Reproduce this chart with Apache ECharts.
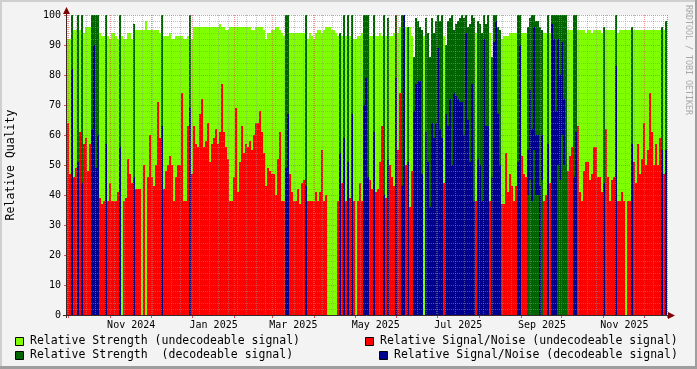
<!DOCTYPE html>
<html><head><meta charset="utf-8">
<script src="https://cdn.jsdelivr.net/npm/echarts@6/dist/echarts.min.js"></script>
<style>html,body{margin:0;padding:0;background:#f3f3f3}#c{width:697px;height:369px}</style>
</head><body><div id="c"></div>
<script>
// ---- data (one value per 2px time bin, 300 bins, Sep 30 2024 .. Dec 17 2025) ----
const startDate = '2024-09-30';
const dayCount = 444;
const decoded = [
0,0,1,0,0,1,0,1,0,0, 0,0,1,1,1,1,0,0,0,1, 0,0,0,0,0,0,1,0,0,0, 0,0,0,1,0,0,0,0,0,0,
0,0,0,0,0,0,0,1,0,0, 0,0,0,0,0,0,0,0,0,0, 0,1,0,0,0,0,0,0,0,0, 0,0,0,0,0,0,0,0,0,0,
0,0,0,0,0,0,0,0,0,0, 0,0,0,0,0,0,0,0,0,0, 0,0,0,0,0,0,0,0,0,1, 1,0,0,0,0,0,0,0,0,1,
0,0,0,0,0,0,0,0,0,0, 0,0,0,0,0,0,1,0,1,0, 1,0,1,0,0,0,0,0,1,1, 1,0,0,1,0,0,0,0,1,0,
1,0,0,0,1,0,0,1,1,0, 1,0,0,1,1,1,1,1,0,1, 1,1,1,1,1,1,1,1,0,1, 1,1,1,1,1,1,1,1,1,1,
1,1,1,1,0,1,1,1,1,1, 1,0,1,1,1,1,1,0,0,0, 0,0,0,0,0,1,1,0,0,0, 1,1,1,1,1,1,1,1,0,0,
1,0,1,1,1,1,1,1,1,1, 0,0,0,1,1,0,0,0,0,0, 0,0,0,0,0,0,0,0,1,0, 0,0,0,0,1,0,0,0,0,0,
0,0,1,0,0,0,0,0,0,0, 0,0,0,0,0,0,0,1,0,1];
const strength = [
92,92,100,95,95,100,95,100,94,96, 96,96,100,100,100,100,94,93,93,100, 93,92,94,94,93,92,100,93,92,92,
94,94,92,97,95,95,95,95,95,98, 95,95,95,95,95,95,94,100,93,93, 93,94,92,92,93,93,93,93,92,92,
93,100,92,96,96,96,96,96,96,96, 96,96,96,96,96,96,97,96,96,95, 95,96,96,96,96,96,96,96,96,96,
96,96,95,95,96,96,96,96,95,92, 94,94,95,95,96,96,95,94,93,100, 100,94,94,94,94,94,94,94,94,100,
92,94,93,92,94,95,95,94,95,96, 96,96,95,95,94,93,94,93,100,93, 100,93,100,92,92,93,93,94,100,100,
100,93,93,100,93,93,94,93,100,93, 99,93,93,94,100,94,96,100,100,96, 96,96,93,86,99,98,96,95,93,99,
94,86,99,94,98,100,98,100,93,90, 98,99,100,95,97,98,99,100,99,100, 96,97,100,99,94,98,97,94,100,97,
100,94,86,100,100,96,95,92,93,93, 93,94,94,94,94,100,100,94,94,94, 96,99,100,100,98,98,96,95,94,94,
100,94,100,100,100,100,100,100,100,100, 95,95,95,100,100,95,95,95,95,94, 95,95,94,95,95,95,95,94,96,95,
95,95,95,95,100,94,95,95,95,95, 95,95,96,95,95,95,95,95,95,95, 95,95,95,95,95,95,95,96,95,98];
const snr = [
64,47,82,46,49,51,61,44,57,59, 48,57,62,90,49,60,39,37,38,57, 38,44,38,38,38,41,56,0,38,39,
52,47,44,46,42,42,42,0,50,0, 46,60,46,43,50,71,59,63,42,48, 50,53,50,38,46,50,50,74,38,38,
63,69,47,63,57,56,67,72,56,58, 64,51,57,59,62,57,61,77,61,56, 52,38,38,46,69,41,51,63,54,57,
56,58,55,60,64,64,68,61,54,43, 49,48,47,47,40,52,61,38,38,49, 67,47,41,38,38,42,37,44,45,43,
38,38,38,38,41,38,41,55,38,40, 0,0,0,0,0,38,54,44,59,38, 51,39,67,38,0,38,44,38,70,79,
46,45,42,61,41,42,51,63,40,39, 52,50,46,43,79,55,74,43,100,50, 51,36,48,68,77,78,78,47,0,61,
51,36,64,59,64,89,62,59,44,67, 63,72,50,74,73,72,71,71,60,94, 65,51,77,38,38,52,50,38,92,63,
63,38,46,91,98,67,50,37,37,54, 41,47,43,38,43,51,90,53,47,46, 55,75,62,96,60,60,43,60,38,40,
57,44,97,92,68,92,80,91,72,0, 48,53,56,46,61,63,41,38,48,51, 51,45,47,56,56,46,46,41,44,62,
46,38,45,46,83,38,38,41,38,0, 38,38,57,51,44,57,47,52,64,50, 55,74,61,50,57,50,59,55,47,55];
// bins where the decodeable S/N band starts above zero
const snrFloorBins = [230,231,232,233,234,235,237,245,246,247,248];
const snrFloorVals = [40,45,38,55,40,40,45,50,45,60,50];
// x-axis labels and the days they are centred on
const tickLabels = ['Nov 2024','Jan 2025','Mar 2025','May 2025','Jul 2025','Sep 2025','Nov 2025'];
const tickDates = ['2024-11-16','2025-01-16','2025-03-16','2025-05-16','2025-07-16','2025-09-16','2025-11-16'];
const legendNames = ['Relative Strength (undecodeable signal)','Relative Signal/Noise (undecodeable signal)',
  'Relative Strength  (decodeable signal)','Relative Signal/Noise (decodeable signal)'];
const colors = ['#7FFF00','#FF0000','#006400','#00008F'];

// ---- build ----
const floor = new Array(strength.length).fill(0);
snrFloorBins.forEach((b,k)=>{floor[b]=snrFloorVals[k];});
const bins = strength.map((_,i)=>String(i));
const days = [];
const t0 = Date.parse(startDate+'T00:00:00Z');
for (let i=0;i<dayCount;i++){ days.push(new Date(t0+i*86400000).toISOString().slice(0,10)); }
const labelMap = {}; tickDates.forEach((d,k)=>labelMap[d]=tickLabels[k]);
const isMonthStart = (i)=> days[i] && days[i].slice(8)==='01';
const isMonday = (i)=> days[i] && new Date(days[i]+'T00:00:00Z').getUTCDay()===1;
const isLabel = (i)=> days[i] in labelMap;

const lg = strength.map((v,i)=>decoded[i]?null:v);
const rd = snr.map((v,i)=>decoded[i]?null:v);
const dg = strength.map((v,i)=>decoded[i]?v:null);
const bb = floor.map((v,i)=>decoded[i]?v:null);
const bl = snr.map((v,i)=>decoded[i]?Math.max(0,v-floor[i]):null);

const mono = '"DejaVu Sans Mono", monospace';
const barBase = {type:'bar', xAxisIndex:0, barGap:'-100%', barCategoryGap:'0%', animation:false, silent:true};

const chart = echarts.init(document.getElementById('c'), null, {renderer:'canvas'});
const g = [];
// frame
g.push({type:'rect', shape:{x:0,y:0,width:697,height:2}, style:{fill:'#CFCFCF'}, z:100});
g.push({type:'rect', shape:{x:0,y:0,width:2,height:369}, style:{fill:'#CFCFCF'}, z:100});
g.push({type:'rect', shape:{x:0,y:366,width:697,height:3}, style:{fill:'#9E9E9E'}, z:101});
g.push({type:'rect', shape:{x:695,y:0,width:2,height:369}, style:{fill:'#9E9E9E'}, z:101});
// axes + arrows
g.push({type:'line', shape:{x1:66.5,y1:10,x2:66.5,y2:318}, style:{stroke:'#3a2a2a',lineWidth:1}, z:100});
g.push({type:'line', shape:{x1:63,y1:315.5,x2:670,y2:315.5}, style:{stroke:'#3a2a2a',lineWidth:1}, z:100});
g.push({type:'polygon', shape:{points:[[66.5,7],[63,14],[70,14]]}, style:{fill:'#7F0000'}, z:101});
g.push({type:'polygon', shape:{points:[[675,315.5],[668,312],[668,319]]}, style:{fill:'#7F0000'}, z:101});
// titles
g.push({type:'text', x:11, y:165, rotation:Math.PI/2, style:{text:'Relative Quality', font:'11.5px '+mono, fill:'#000', align:'center', verticalAlign:'middle'}, z:100});
g.push({type:'text', x:688, y:5, rotation:-Math.PI/2, style:{text:'RRDTOOL / TOBI OETIKER', font:'8.3px '+mono, fill:'#A8A8A8', align:'left', verticalAlign:'middle'}, z:100});
// legend
const lpos = [[15,337,30,341.5],[365,337,380,341.5],[15,351,30,355.5],[379,351,394,355.5]];
legendNames.forEach((n,k)=>{
  const p = lpos[k];
  g.push({type:'rect', shape:{x:p[0]+0.5,y:p[1]+0.5,width:8,height:8}, style:{fill:colors[k],stroke:'#000',lineWidth:1}, z:100});
  g.push({type:'text', x:p[2], y:p[3], style:{text:n, font:'11.5px '+mono, fill:'#000', align:'left', verticalAlign:'middle'}, z:100});
});

chart.setOption({
  animation:false,
  backgroundColor:'#f3f3f3',
  grid:{left:67, top:15, width:600, height:300, show:true, backgroundColor:'#ffffff', borderWidth:0},
  xAxis:[
    {type:'category', data:bins, show:false, boundaryGap:true, position:'top'},
    {type:'category', data:days, boundaryGap:true, position:'bottom', z:11,
      axisLine:{show:false},
      axisTick:{show:true, interval:(i)=>isMonthStart(i), length:3, lineStyle:{color:'#DE5050'}},
      axisLabel:{interval:(i)=>isLabel(i), formatter:(v)=>labelMap[v]||'', fontSize:10, fontFamily:mono, color:'#000', margin:5},
      splitLine:{show:true, interval:(i)=>isMonthStart(i), lineStyle:{color:'rgba(222,80,80,0.6)', type:[1,1], width:1}}},
    {type:'category', data:days, boundaryGap:true, position:'top', z:10,
      axisLine:{show:false}, axisTick:{show:false}, axisLabel:{show:false},
      splitLine:{show:true, interval:(i)=>isMonday(i)&&!isMonthStart(i), lineStyle:{color:'rgba(143,143,143,0.55)', type:[1,1], width:1}}}
  ],
  yAxis:{type:'value', min:0, max:100, interval:10, z:11,
    axisLine:{show:false},
    axisTick:{show:true, length:3, lineStyle:{color:'#DE5050'}},
    axisLabel:{fontSize:10, fontFamily:mono, color:'#000', margin:6},
    splitLine:{show:true, lineStyle:{color:'rgba(222,80,80,0.6)', type:[1,1], width:1}},
    minorTick:{show:false, splitNumber:5},
    minorSplitLine:{show:true, lineStyle:{color:'rgba(143,143,143,0.55)', type:[1,1], width:1}}},
  series:[
    Object.assign({}, barBase, {name:legendNames[0], data:lg, itemStyle:{color:colors[0]}, z:2}),
    Object.assign({}, barBase, {name:legendNames[1], data:rd, itemStyle:{color:colors[1]}, z:3}),
    Object.assign({}, barBase, {name:legendNames[2], data:dg, itemStyle:{color:colors[2]}, z:4}),
    Object.assign({}, barBase, {name:'base', stack:'dec', data:bb, itemStyle:{color:'rgba(0,0,0,0)'}, z:5}),
    Object.assign({}, barBase, {name:legendNames[3], stack:'dec', data:bl, itemStyle:{color:colors[3]}, z:5})
  ],
  graphic:g
});
</script></body></html>
